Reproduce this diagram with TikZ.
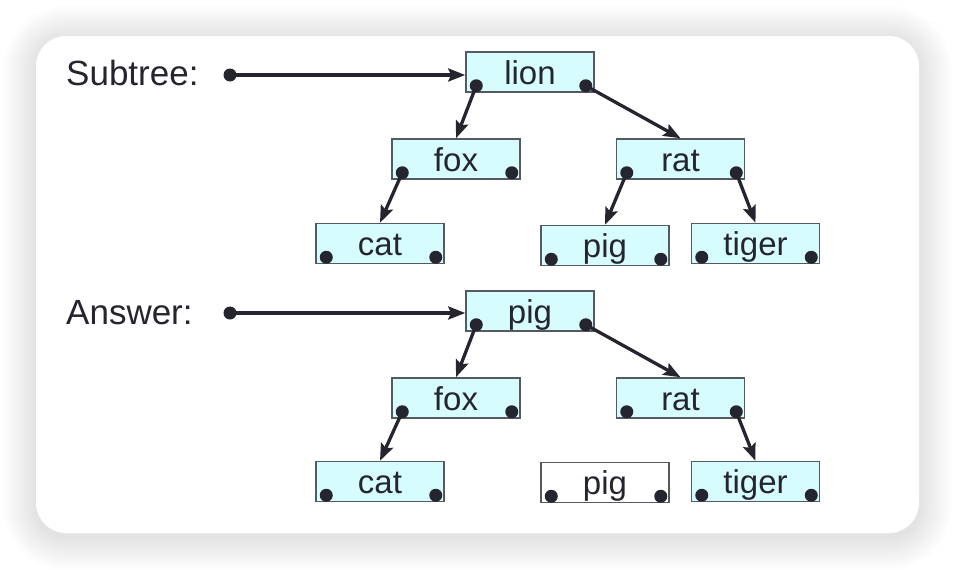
\documentclass[tikz,border=0pt]{standalone}
\usepackage{fontspec}
\setmainfont{Liberation Sans}
\usetikzlibrary{arrows.meta,calc}
\definecolor{ink}{HTML}{25252F}
\definecolor{boxfill}{HTML}{D6FCFD}
\definecolor{boxline}{HTML}{555A60}
\begin{document}
\begin{tikzpicture}[x=1pt,y=-1pt,
  cell/.style={draw=boxline, line width=1.5pt, fill=boxfill, minimum width=128pt, minimum height=40pt,
    inner sep=0pt, text height=24pt, text depth=0pt, font=\fontsize{33}{33}\selectfont, text=ink},
  emptycell/.style={cell, fill=white},
  link/.style={draw=ink, line width=3.3pt, -{Stealth[length=17pt,width=13pt,inset=3pt]}},
  lbl/.style={anchor=base west, inner sep=0pt, font=\fontsize{35}{35}\selectfont, text=ink},
  knob/.style={circle, fill=ink, inner sep=0pt, minimum size=13pt}]
\useasboundingbox (0,0) rectangle (956,570);
\fill[white] (0,0) rectangle (956,570);
% card shadow
\foreach \i in {1,...,28}{
  \pgfmathsetmacro{\d}{1.2*\i}
  \pgfmathsetmacro{\r}{30+\d}
  \fill[black, opacity=0.003, rounded corners=\r pt] (36-\d, 39-\d) rectangle (919+\d, 537+\d);
}
\fill[white, rounded corners=30pt] (36,36) rectangle (919,533);

% labels
\node[lbl] (lab1) at (66,85) {Subtree:};
\node[lbl] (lab2) at (66,324) {Answer:};

% tree 1
\node[cell] (lion) at (530,72) {lion};
\node[cell] (fox) at (456,159) {fox};
\node[cell] (rat) at (680.5,159) {rat};
\node[cell] (cat) at (380,243.5) {cat};
\node[cell] (pig) at (605,245.5) {pig};
\node[cell] (tiger) at (755.5,243.5) {tiger};

% tree 2
\node[cell] (pigB) at (530,311) {pig};
\node[cell] (foxB) at (456,398) {fox};
\node[cell] (ratB) at (680.5,398) {rat};
\node[cell] (catB) at (380,481.5) {cat};
\node[emptycell] (pigW) at (605,482.5) {pig};
\node[cell] (tigerB) at (755.5,481.5) {tiger};

% dots
\foreach \n in {lion,fox,rat,cat,pig,tiger,pigB,foxB,ratB,catB,pigW,tigerB}{
  \node[knob] (\n L) at ([shift={(11,-7)}]\n.south west) {};
  \node[knob] (\n R) at ([shift={(-9,-7)}]\n.south east) {};
}

% start pointers
\node[knob] (s1) at (230,75) {};
\node[knob] (s2) at (230,313) {};
\draw[link] (s1.center) -- (s1 -| lion.west);
\draw[link] (s2.center) -- (s2 -| pigB.west);

% links tree 1
\draw[link] (lionL.center) -- (fox.north);
\draw[link] (lionR.center) -- (rat.north);
\draw[link] (foxL.center) -- (cat.north);
\draw[link] (ratL.center) -- (pig.north);
\draw[link] (ratR.center) -- (tiger.north);

% links tree 2
\draw[link] (pigBL.center) -- (foxB.north);
\draw[link] (pigBR.center) -- (ratB.north);
\draw[link] (foxBL.center) -- (catB.north);
\draw[link] (ratBR.center) -- (tigerB.north);
\end{tikzpicture}
\end{document}
